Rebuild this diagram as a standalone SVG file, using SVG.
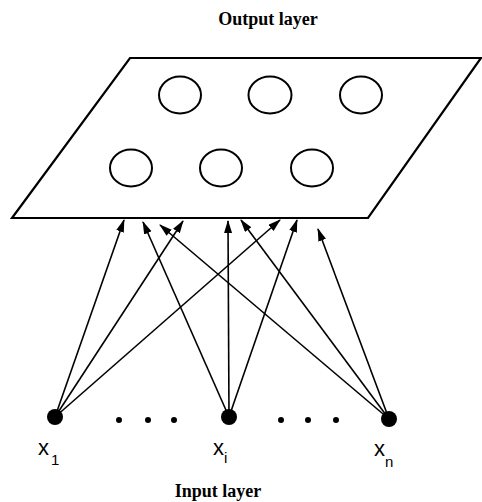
<svg xmlns="http://www.w3.org/2000/svg" width="482" height="502" viewBox="0 0 482 502">
<defs>
<marker id="ah" markerUnits="userSpaceOnUse" markerWidth="15" markerHeight="10" refX="12" refY="4" orient="auto">
<path d="M0,0 L13,4 L0,8 z" fill="#000"/>
</marker>
<style>
.title{font-family:"Liberation Serif","Times New Roman",serif;font-weight:bold;font-size:18px;fill:#000}
.var{font-family:"Liberation Sans",Arial,sans-serif;font-size:22px;fill:#000}
.sub{font-family:"Liberation Sans",Arial,sans-serif;font-size:15px;fill:#000}
.unit{fill:#fff;stroke:#000;stroke-width:2}
.conn{stroke:#000;stroke-width:1.6;fill:none;marker-end:url(#ah)}
.inp{fill:#000}
.dot{fill:#000}
</style>
</defs>
<rect width="482" height="502" fill="#fff"/>
<text class="title" x="268" y="25" text-anchor="middle">Output layer</text>
<g id="output-layer">
<polygon points="130,58 481,58 368,218 12,218" fill="#fff" stroke="#000" stroke-width="2.2"/>
</g>
<g id="o1"><ellipse class="unit" cx="180" cy="95" rx="21" ry="18.5"/></g>
<g id="o2"><ellipse class="unit" cx="270" cy="95" rx="21.5" ry="18.5"/></g>
<g id="o3"><ellipse class="unit" cx="361" cy="95" rx="21" ry="18.5"/></g>
<g id="o4"><ellipse class="unit" cx="131" cy="168" rx="21" ry="18.5"/></g>
<g id="o5"><ellipse class="unit" cx="221" cy="168" rx="21" ry="18.5"/></g>
<g id="o6"><ellipse class="unit" cx="312" cy="168" rx="21" ry="18.5"/></g>
<g id="connectors">
<line class="conn" x1="55" y1="417" x2="124" y2="220"/>
<line class="conn" x1="55" y1="417" x2="183" y2="221"/>
<line class="conn" x1="55" y1="417" x2="280" y2="220"/>
<line class="conn" x1="229" y1="417" x2="143" y2="222"/>
<line class="conn" x1="229" y1="417" x2="228" y2="221"/>
<line class="conn" x1="229" y1="417" x2="297" y2="220"/>
<line class="conn" x1="389" y1="419" x2="160" y2="225"/>
<line class="conn" x1="389" y1="419" x2="241" y2="220"/>
<line class="conn" x1="389" y1="419" x2="318" y2="229"/>
</g>
<g id="x1">
<circle class="inp" cx="55" cy="417" r="8"/>
<text class="var" x="38" y="455">x</text><text class="sub" x="51" y="465">1</text>
</g>
<g id="xi">
<circle class="inp" cx="229" cy="417" r="8"/>
<text class="var" x="213" y="455">x</text><text class="sub" x="224" y="463">i</text>
</g>
<g id="xn">
<circle class="inp" cx="389" cy="419" r="8"/>
<text class="var" x="374" y="456">x</text><text class="sub" x="385" y="467">n</text>
</g>
<g id="ellipsis">
<circle class="dot" cx="119" cy="420" r="3"/>
<circle class="dot" cx="148" cy="420" r="3"/>
<circle class="dot" cx="174" cy="420" r="3"/>
<circle class="dot" cx="281" cy="420" r="3"/>
<circle class="dot" cx="308" cy="420" r="3"/>
<circle class="dot" cx="336" cy="420" r="3"/>
</g>
<text class="title" x="218" y="497" text-anchor="middle">Input layer</text>
</svg>
